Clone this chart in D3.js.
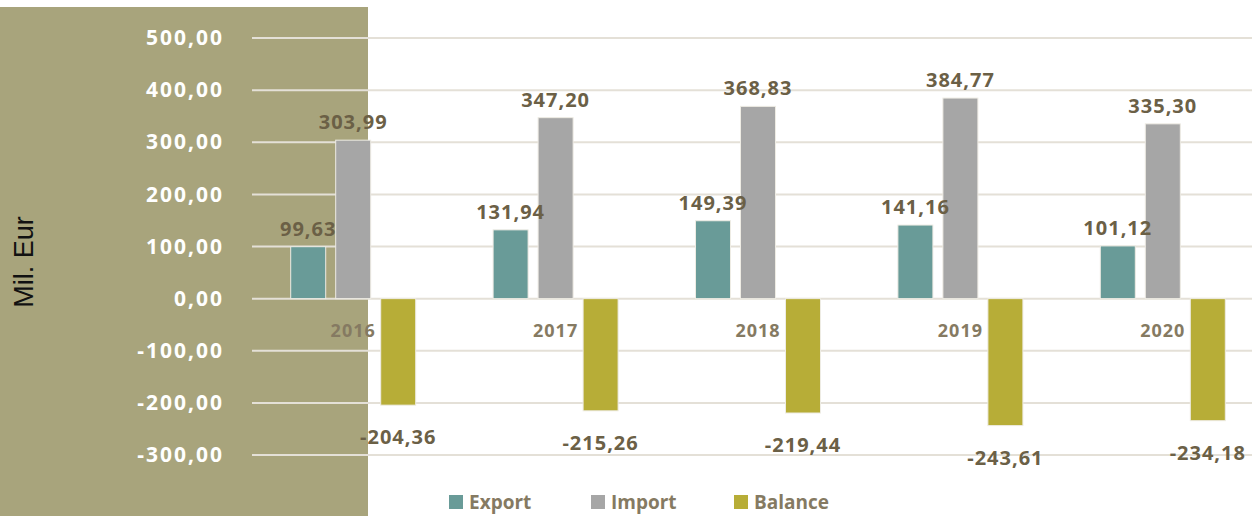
<!DOCTYPE html>
<html>
<head>
<meta charset="utf-8">
<script src="https://cdn.jsdelivr.net/npm/d3@7"></script>
<style>
  body { margin: 0; background: #fff; }
  svg { display: block; }
</style>
</head>
<body>
<svg id="chart" width="1252" height="516"></svg>
<script>
// data
var years = ["2016", "2017", "2018", "2019", "2020"];
var seriesNames = ["Export", "Import", "Balance"];
var exportVals = [99.63, 131.94, 149.39, 141.16, 101.12];
var importVals = [303.99, 347.20, 368.83, 384.77, 335.30];
var balanceVals = [-204.36, -215.26, -219.44, -243.61, -234.18];
var yTicks = [500, 400, 300, 200, 100, 0, -100, -200, -300];

var colors = {"Export": "#699b98", "Import": "#a6a6a6", "Balance": "#b7ad37"};
var labelColor = "#6b6046";
// comma decimals, plain hyphen for negatives
var fmt = function (v) { return (v < 0 ? "-" : "") + Math.abs(v).toFixed(2).replace(".", ","); };

var svg = d3.select("#chart");

// olive panel behind the axis
svg.append("rect")
    .attr("x", 0).attr("y", 7)
    .attr("width", 368).attr("height", 509)
    .attr("fill", "#a8a47c");

var x0 = d3.scaleBand().domain(years).range([252, 1264]).padding(0);
var x1 = d3.scaleBand().domain(seriesNames).range([0, 125]).paddingInner(0.2222);
var y = d3.scaleLinear().domain([-300, 500]).range([455, 38]);

// gridlines
svg.append("g").selectAll("line")
    .data(yTicks)
    .enter().append("line")
    .attr("x1", 252).attr("x2", 1252)
    .attr("y1", function (d) { return y(d); })
    .attr("y2", function (d) { return y(d); })
    .attr("stroke", "#e4e0d7")
    .attr("stroke-width", 2);

// y axis labels
var yAxis = d3.axisLeft(y).tickValues(yTicks).tickSize(0).tickPadding(0)
    .tickFormat(function (d) { return fmt(d); });
var ga = svg.append("g").attr("transform", "translate(224,0)").call(yAxis);
ga.select(".domain").remove();
ga.selectAll("text")
    .attr("fill", "#ffffff")
    .style("font-family", "'Open Sans', sans-serif")
    .style("font-weight", "bold")
    .style("font-size", "21px")
    .style("letter-spacing", "2px");

svg.append("text")
    .attr("transform", "translate(33,262) rotate(-90)")
    .attr("text-anchor", "middle")
    .style("font-family", "'Liberation Sans', Arial, sans-serif")
    .style("font-size", "27px")
    .attr("fill", "#111")
    .text("Mil. Eur");

var rows = years.map(function (yr, i) {
    return {year: yr, values: [
        {key: "Export", v: exportVals[i]},
        {key: "Import", v: importVals[i]},
        {key: "Balance", v: balanceVals[i]}
    ]};
});

var group = svg.append("g").selectAll("g")
    .data(rows)
    .enter().append("g")
    .attr("transform", function (d) {
        var mid = x1("Import") + x1.bandwidth() / 2;
        return "translate(" + (x0(d.year) + x0.bandwidth() / 2 - mid) + ",0)";
    });

group.selectAll("rect")
    .data(function (d) { return d.values; })
    .enter().append("rect")
    .attr("x", function (d) { return x1(d.key); })
    .attr("width", x1.bandwidth())
    .attr("y", function (d) { return d.v >= 0 ? y(d.v) : y(0); })
    .attr("height", function (d) { return Math.abs(y(d.v) - y(0)); })
    .attr("fill", function (d) { return colors[d.key]; })
    .attr("stroke", "#eeece4")
    .attr("stroke-width", 1);

group.selectAll("text.val")
    .data(function (d) { return d.values; })
    .enter().append("text")
    .attr("class", "val")
    .attr("x", function (d) { return x1(d.key) + x1.bandwidth() / 2; })
    .attr("y", function (d) { return d.v >= 0 ? y(d.v) - 11 : y(d.v) + 39; })
    .attr("text-anchor", "middle")
    .attr("fill", labelColor)
    .style("font-family", "'Open Sans', sans-serif")
    .style("font-weight", "bold")
    .style("font-size", "20px")
    .style("letter-spacing", "1px")
    .text(function (d) { return fmt(d.v); });

// category labels below zero line
group.append("text")
    .attr("x", x1("Import") + x1.bandwidth() / 2)
    .attr("y", y(0) + 38)
    .attr("text-anchor", "middle")
    .attr("fill", "#857a62")
    .style("font-family", "'Open Sans', sans-serif")
    .style("font-weight", "bold")
    .style("font-size", "18px")
    .style("letter-spacing", "1px")
    .text(function (d) { return d.year; });

// legend
var legendX = [449, 591, 734];
var legend = svg.append("g").selectAll("g")
    .data(seriesNames)
    .enter().append("g")
    .attr("transform", function (d, i) { return "translate(" + legendX[i] + ",495)"; });
legend.append("rect")
    .attr("width", 14).attr("height", 14)
    .attr("fill", function (d) { return colors[d]; });
legend.append("text")
    .attr("x", 20).attr("y", 14)
    .attr("fill", "#857a62")
    .style("font-family", "'Open Sans', sans-serif")
    .style("font-weight", "bold")
    .style("font-size", "19px")
    .text(function (d) { return d; });
</script>
</body>
</html>
